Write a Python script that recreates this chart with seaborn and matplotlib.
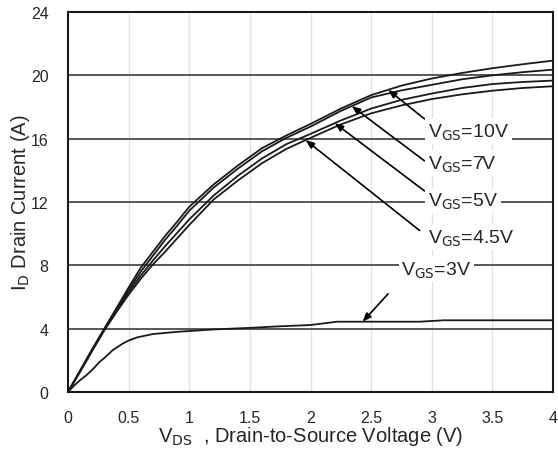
import numpy as np
import pandas as pd
import matplotlib
matplotlib.use("Agg")
import matplotlib.pyplot as plt
import seaborn as sns

# ---- data ----
vds = [0, 0.1, 0.2, 0.3, 0.4, 0.5, 0.6, 0.7, 0.8, 0.9, 1.0, 1.2, 1.4, 1.6,
       1.8, 2.0, 2.25, 2.5, 2.75, 3.0, 3.25, 3.5, 3.75, 4.0]
id_10v = [0, 1.35, 2.7, 4.0, 5.3, 6.6, 7.85, 8.85, 9.85, 10.75, 11.7, 13.1,
          14.3, 15.4, 16.2, 16.93, 17.9, 18.75, 19.35, 19.8, 20.15, 20.45,
          20.7, 20.93]
id_7v = [0, 1.35, 2.7, 4.0, 5.25, 6.45, 7.6, 8.6, 9.6, 10.5, 11.45, 12.9,
         14.1, 15.2, 16.05, 16.76, 17.75, 18.6, 19.05, 19.4, 19.75, 20.0,
         20.2, 20.36]
id_5v = [0, 1.3, 2.65, 3.95, 5.15, 6.3, 7.35, 8.3, 9.2, 10.05, 10.9, 12.4,
         13.65, 14.75, 15.65, 16.3, 17.15, 17.9, 18.45, 18.85, 19.2, 19.45,
         19.58, 19.67]
id_45v = [0, 1.28, 2.6, 3.9, 5.05, 6.15, 7.15, 8.05, 8.85, 9.7, 10.55, 12.15,
          13.35, 14.45, 15.35, 16.05, 16.9, 17.6, 18.1, 18.5, 18.8, 19.03,
          19.2, 19.31]
vds_3v = [0, 0.05, 0.1, 0.15, 0.2, 0.26, 0.3, 0.37, 0.45, 0.5, 0.57, 0.7,
          0.9, 1.2, 1.5, 1.75, 2.0, 2.22, 2.9, 3.1, 4.0]
id_3v = [0, 0.4, 0.75, 1.05, 1.4, 1.9, 2.15, 2.65, 3.05, 3.25, 3.45, 3.66,
         3.8, 3.95, 4.05, 4.15, 4.23, 4.44, 4.44, 4.53, 4.53]

labels = ["V$_{\\mathrm{GS}}$=10V", "V$_{\\mathrm{GS}}$=7V",
          "V$_{\\mathrm{GS}}$=5V", "V$_{\\mathrm{GS}}$=4.5V",
          "V$_{\\mathrm{GS}}$=3V"]
x_ticks = [0, 0.5, 1, 1.5, 2, 2.5, 3, 3.5, 4]
x_tick_labels = ["0", "0.5", "1", "1.5", "2", "2.5", "3", "3.5", "4"]
y_ticks = [0, 4, 8, 12, 16, 20, 24]

# ---- build long table ----
frames = []
for lab, ys in zip(labels[:4], [id_10v, id_7v, id_5v, id_45v]):
    frames.append(pd.DataFrame({"vds": vds, "id": ys, "vgs": lab}))
frames.append(pd.DataFrame({"vds": vds_3v, "id": id_3v, "vgs": labels[4]}))
df = pd.concat(frames, ignore_index=True)

sns.set_style("white")
plt.rcParams["font.family"] = ["Liberation Sans", "DejaVu Sans"]
plt.rcParams["mathtext.default"] = "regular"

fig = plt.figure(figsize=(5.58, 4.52), dpi=100)
ax = fig.add_axes([68 / 558, 59 / 452, 485 / 558, 380 / 452])

# grid
for yv in y_ticks[1:-1]:
    ax.axhline(yv, color="#4a4a4a", lw=1.3, zorder=1)
for xv in x_ticks[1:-1]:
    ax.axvline(xv, color="#e2e2e2", lw=1.0, zorder=0)

sns.lineplot(data=df, x="vds", y="id", hue="vgs", units="vgs",
             estimator=None, sort=False, palette=["#1a1a1a"] * 5,
             linewidth=1.3, legend=False, ax=ax, zorder=3)

ax.set_xlim(0, 4)
ax.set_ylim(0, 24)
ax.set_xticks(x_ticks)
ax.set_xticklabels(x_tick_labels)
ax.set_yticks(y_ticks)
ax.tick_params(axis="x", direction="in", length=5, width=1.0,
               labelsize=11.5, pad=13, color="#333333")
ax.tick_params(axis="y", length=0, labelsize=11.5, pad=14)
for s in ax.spines.values():
    s.set_color("#1a1a1a")
    s.set_linewidth(1.5)

ax.set_xlabel("V$_{\\mathrm{DS}}$  , Drain-to-Source Voltage (V)",
              fontsize=14.5, labelpad=-1)
ax.set_ylabel("I$_{\\mathrm{D}}$ Drain Current (A)", fontsize=14.5, labelpad=-1)

# annotations
curves = [id_10v, id_7v, id_5v, id_45v]
tip_x = [2.64, 2.34, 2.2, 1.96]
tail = [(2.94, 17.25), (2.94, 14.6), (2.94, 12.7), (2.9, 10.2)]
text_pos = [(2.97, 16.5), (2.97, 14.45), (2.97, 12.1), (2.97, 9.8)]
bbox = dict(boxstyle="square,pad=0.15", fc="white", ec="none")
for lab, ys, tx, tl, tp in zip(labels[:4], curves, tip_x, tail, text_pos):
    ty = float(np.interp(tx, vds, ys))
    ax.annotate("", xy=(tx, ty), xytext=tl,
                arrowprops=dict(arrowstyle="-|>,head_length=0.5,head_width=0.2",
                                color="black", lw=1.2, shrinkA=0, shrinkB=0),
                zorder=5)
    ax.text(tp[0], tp[1], lab, fontsize=14, ha="left", va="center",
            bbox=bbox, zorder=6)

tx3 = 2.43
ty3 = float(np.interp(tx3, vds_3v, id_3v))
ax.annotate("", xy=(tx3, ty3), xytext=(2.64, 6.2),
            arrowprops=dict(arrowstyle="-|>,head_length=0.5,head_width=0.2",
                            color="black", lw=1.2, shrinkA=0, shrinkB=0),
            zorder=5)
ax.text(2.75, 7.75, labels[4], fontsize=14, ha="left", va="center",
        bbox=bbox, zorder=6)

fig.savefig("out.png", dpi=100)
